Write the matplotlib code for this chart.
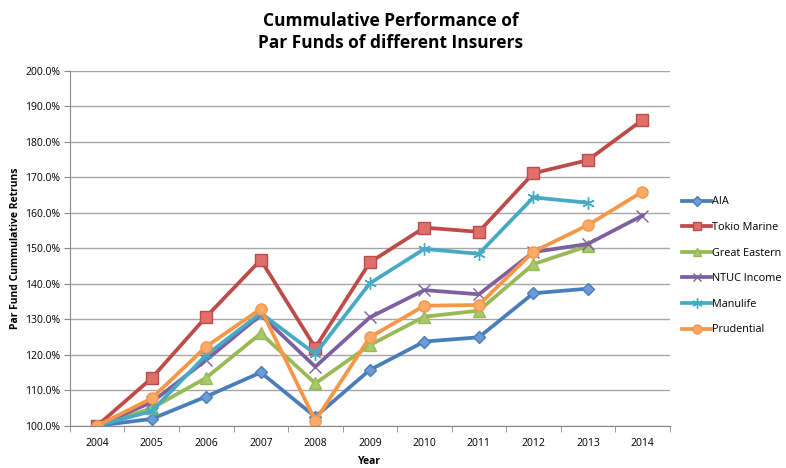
import matplotlib.pyplot as plt
from matplotlib.ticker import FuncFormatter

years = ['2004', '2005', '2006', '2007', '2008', '2009', '2010', '2011', '2012', '2013', '2014']

aia = [100.0, 101.9, 108.2, 115.0, 102.5, 115.7, 123.7, 124.9, 137.3, 138.6, None]
tokio = [100.0, 113.4, 130.7, 146.7, 122.0, 146.0, 155.8, 154.6, 171.1, 174.8, 186.1]
great_eastern = [100.0, 104.9, 113.5, 126.0, 111.9, 122.7, 130.7, 132.4, 145.5, 150.6, None]
ntuc = [100.0, 106.6, 118.5, 131.2, 116.6, 130.5, 138.2, 137.0, 148.9, 151.2, 159.2]
manulife = [100.0, 104.1, 119.9, 131.7, 120.2, 140.1, 149.8, 148.4, 164.3, 162.8, None]
prudential = [100.0, 107.7, 122.3, 132.9, 101.4, 124.9, 133.8, 134.0, 149.0, 156.5, 165.9]

names = ['AIA', 'Tokio Marine', 'Great Eastern', 'NTUC Income', 'Manulife', 'Prudential']
series = [aia, tokio, great_eastern, ntuc, manulife, prudential]
colors = ['#4A7EBB', '#BE4B48', '#98B954', '#7D60A0', '#46AAC5', '#F79646']
faces = ['#6E9BD6', '#E06E6B', '#A9C86B', '#9A7DBB', '#63BDD6', '#FBAA6A']
markers = ['D', 's', '^', 'x', (6, 2, 0), 'o']
msizes = [6, 8, 8, 8, 9, 8]

plt.rcParams['font.family'] = ['Open Sans', 'DejaVu Sans']

fig = plt.figure(figsize=(7.86, 4.68), dpi=100)
ax = fig.add_axes([0.089, 0.0904, 0.763, 0.7586])

x = list(range(len(years)))
for vals, name, c, fc, m, ms in zip(series, names, colors, faces, markers, msizes):
    xs = [i for i, v in zip(x, vals) if v is not None]
    ys = [v for v in vals if v is not None]
    ax.plot(xs, ys, color=c, lw=2.7, marker=m, markersize=ms,
            markerfacecolor=fc, markeredgecolor=c, markeredgewidth=1.0,
            label=name, solid_joinstyle='round')

ax.set_xlim(-0.5, len(years) - 0.5)
ax.set_ylim(100, 200)
ax.set_yticks(range(100, 201, 10))
ax.yaxis.set_major_formatter(FuncFormatter(lambda v, p: '%.1f%%' % v))
ax.set_xticks(x)
ax.set_xticklabels(years)
ax.set_xticks([i - 0.5 for i in range(len(years) + 1)], minor=True)
ax.tick_params(axis='x', which='major', length=0, labelsize=7.5, pad=9)
ax.tick_params(axis='x', which='minor', length=4, color='#888888')
ax.tick_params(axis='y', length=4, color='#888888', labelsize=7.5, pad=3)

ax.grid(axis='y', color='#A6A6A6', lw=1.0)
ax.set_axisbelow(True)
for s in ['top', 'right']:
    ax.spines[s].set_visible(False)
for s in ['left', 'bottom']:
    ax.spines[s].set_color('#888888')

ax.set_xlabel('Year', fontsize=7.5, fontweight='bold', labelpad=5)
ax.set_ylabel('Par Fund Cummulative Retruns', fontsize=7.5, fontweight='bold', labelpad=3)

fig.suptitle('Cummulative Performance of\nPar Funds of different Insurers',
             x=0.497, y=0.975, fontsize=12.5, fontweight='bold', linespacing=1.3)

ax.legend(loc='center left', bbox_to_anchor=(1.005, 0.45), frameon=False,
          fontsize=7.8, handlelength=2.6, handletextpad=0.1, labelspacing=1.35,
          markerscale=0.8)

fig.savefig('out.png', dpi=100)
